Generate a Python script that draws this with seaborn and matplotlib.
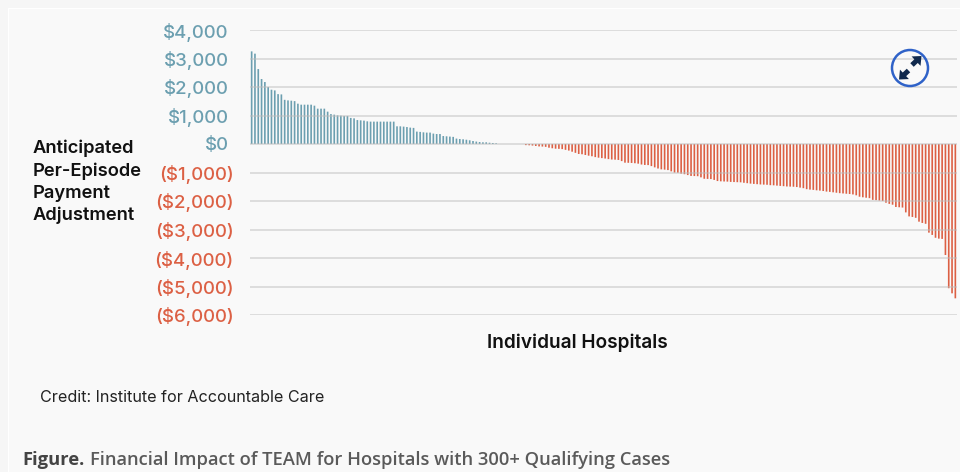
"""
Financial impact of TEAM, per-episode adjustment by hospital
"""
import numpy as np
import pandas as pd
import matplotlib.pyplot as plt
import seaborn as sns
from matplotlib.patches import Circle, FancyArrow, Rectangle

sns.set_theme(style="white")
plt.rcParams['font.family'] = ['Inter', 'DejaVu Sans']

gains = [3250, 3170, 2630, 2280, 2175, 2000, 1905, 1880, 1750, 1740,
         1550, 1530, 1520, 1505, 1415, 1380, 1380, 1380, 1380, 1345,
         1240, 1240, 1240, 1135, 1050, 1030, 1005, 995, 985, 985,
         915, 900, 840, 830, 820, 795, 785, 785, 785, 785,
         785, 785, 785, 785, 620, 620, 610, 595, 575, 565,
         435, 425, 410, 400, 400, 365, 350, 350, 280, 270,
         260, 250, 190, 175, 165, 150, 130, 105, 85, 70,
         60, 60, 45, 35, 25]
flat = [0, 0, 0, 0, 0, 0, 0, 0]
losses = [-40, -45, -55, -70, -85, -90, -100, -130, -150, -165,
          -170, -180, -205, -230, -270, -310, -350, -360, -385, -410,
          -430, -460, -480, -495, -510, -530, -545, -550, -560, -600,
          -655, -660, -665, -675, -690, -720, -735, -740, -775, -820,
          -860, -890, -900, -915, -960, -1005, -1010, -1040, -1060, -1090,
          -1120, -1125, -1130, -1170, -1220, -1225, -1230, -1260, -1300, -1310,
          -1315, -1320, -1330, -1335, -1340, -1345, -1360, -1375, -1390, -1400,
          -1410, -1420, -1425, -1430, -1445, -1450, -1460, -1470, -1480, -1490,
          -1495, -1500, -1510, -1530, -1550, -1585, -1600, -1610, -1625, -1635,
          -1650, -1670, -1680, -1695, -1710, -1725, -1735, -1745, -1755, -1770,
          -1800, -1850, -1870, -1885, -1900, -1960, -1970, -1985, -2000, -2060,
          -2100, -2130, -2210, -2220, -2230, -2400, -2540, -2560, -2590, -2725,
          -2770, -2800, -3110, -3190, -3290, -3320, -3330, -3895, -5060, -5240,
          -5415]
yticks = [4000, 3000, 2000, 1000, 0, -1000, -2000, -3000, -4000, -5000, -6000]
ylabels = ["$4,000", "$3,000", "$2,000", "$1,000", "$0", "($1,000)", "($2,000)",
           "($3,000)", "($4,000)", "($5,000)", "($6,000)"]

blue = "#6c9fb0"
red = "#dc6044"
W, H = 960, 472

values = gains + flat + losses
df = pd.DataFrame({"hospital": np.arange(len(values)), "adjust": values})
df["side"] = np.where(df["adjust"] >= 0, "gain", "loss")

fig = plt.figure(figsize=(W / 100, H / 100), dpi=100, facecolor="#f6f6f6")
fig.add_artist(Rectangle((7.5 / W, -0.01), 1, 1 - 7.5 / H + 0.01, transform=fig.transFigure,
                         facecolor="#f9f9f9", edgecolor="#ffffff", lw=0.8, zorder=-5))
ax = fig.add_axes([250 / W, 1 - 315 / H, 707 / W, 285 / H])
ax.patch.set_alpha(0)

sns.barplot(data=df, x="hospital", y="adjust", hue="side", native_scale=True, dodge=False,
            palette={"gain": blue, "loss": red}, width=0.5, saturation=1, linewidth=0,
            legend=False, ax=ax)
# let the narrow bars blur a little, not snap to whole pixels
for bar in ax.patches:
    bar.set_snap(False)
ax.set_xlim(-0.5, len(values) - 0.5)
ax.set_ylim(-6000, 4000)
ax.set_xlabel("")
ax.set_ylabel("")
ax.set_xticks([])
ax.set_yticks(yticks)
ax.set_yticklabels(ylabels, fontsize=13.4, fontweight="medium")
ax.tick_params(axis="y", length=0)
for tick, v in zip(ax.yaxis.get_major_ticks(), yticks):
    tick.set_pad(15.4 if v >= 0 else 11.8)
    tick.label1.set_color(blue if v >= 0 else red)
    tick.label1.set_verticalalignment("center_baseline")
ax.grid(axis="y", color="#bdbdbd", lw=1.2, alpha=0.55, zorder=3)
ax.set_axisbelow(False)
sns.despine(ax=ax, left=True, bottom=True)

for txt, y in zip(["Anticipated", "Per-Episode", "Payment", "Adjustment"], [153, 175.5, 198, 220]):
    fig.text(33 / W, 1 - y / H, txt, fontsize=13.2, fontweight="semibold", color="#111111", va="baseline")
fig.text(577 / W, 1 - 342.5 / H, "Individual Hospitals", fontsize=13.7, fontweight="semibold",
         color="#111111", ha="center", va="center")
fig.text(40 / W, 1 - 397.5 / H, "Credit: Institute for Accountable Care", fontsize=11.6,
         color="#222222", va="center")
fig.text(22 / W, 1 - 460 / H, "Figure.", fontsize=13.2, fontweight="bold", color="#444444",
         va="center", family="Open Sans")
fig.text(90 / W, 1 - 460 / H, "Financial Impact of TEAM for Hospitals with 300+ Qualifying Cases",
         fontsize=13.2, fontweight="semibold", color="#5a5a5a", va="center", family="Open Sans")

# expand icon, in pixel coordinates
icon = fig.add_axes([0, 0, 1, 1], facecolor="none")
icon.set_xlim(0, W)
icon.set_ylim(H, 0)
icon.axis("off")
icon.add_patch(Circle((910, 68), 18, facecolor="none", edgecolor="#2f62c8", lw=1.8))
for x0, y0, dx, dy in [(908.5, 70.5, -9.5, 9), (912, 65, 9.5, -9)]:
    icon.add_patch(FancyArrow(x0, y0, dx, dy, width=5, head_width=13, head_length=7.5,
                              length_includes_head=True, color="#10294d", lw=0))

fig.savefig("out.png", dpi=100, facecolor=fig.get_facecolor())
